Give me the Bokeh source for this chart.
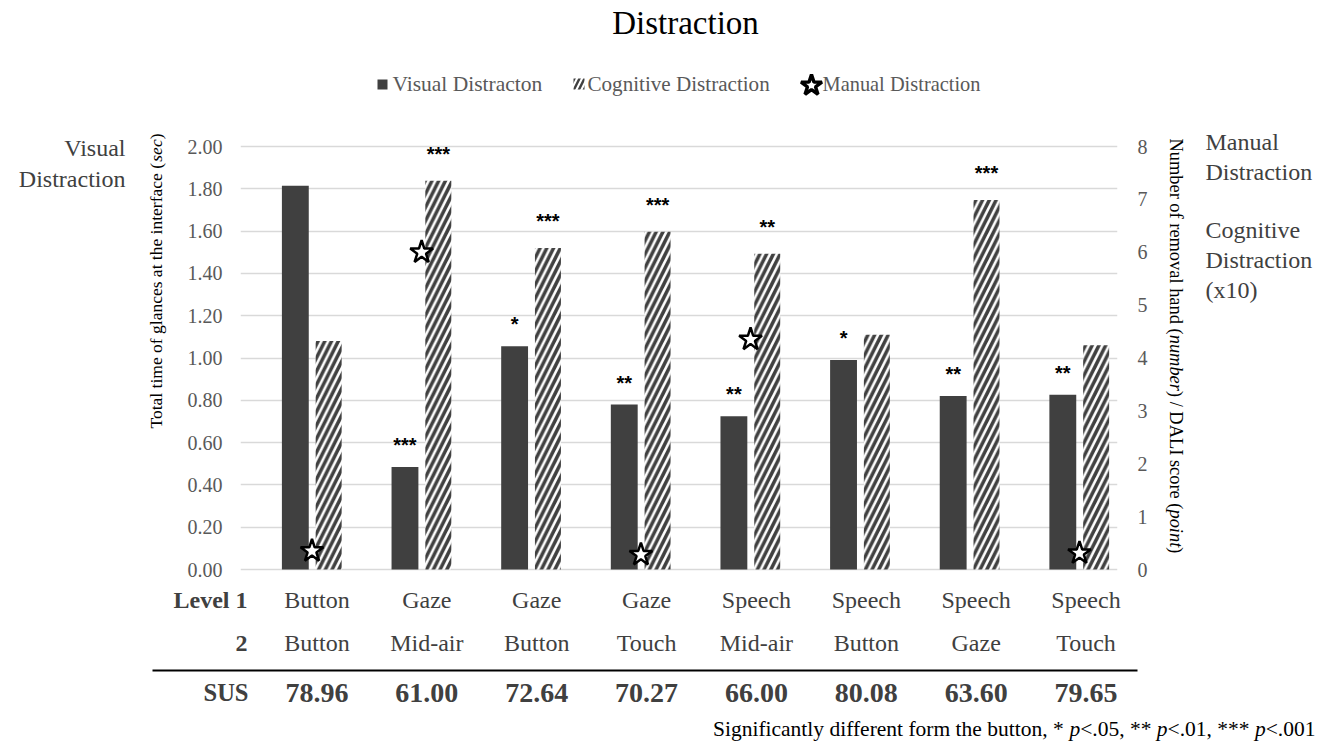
import numpy as np
from bokeh.plotting import figure
from bokeh.models import Range1d, LinearAxis, FixedTicker, PrintfTickFormatter
from bokeh.layouts import column, row
from bokeh.core.properties import value
from bokeh.embed import file_html
from bokeh.resources import INLINE

# ---------------- data ----------------
level1 = ["Button", "Gaze", "Gaze", "Gaze", "Speech", "Speech", "Speech", "Speech"]
level2 = ["Button", "Mid-air", "Button", "Touch", "Mid-air", "Button", "Gaze", "Touch"]
sus = ["78.96", "61.00", "72.64", "70.27", "66.00", "80.08", "63.60", "79.65"]
visual = [1.815, 0.485, 1.055, 0.78, 0.725, 0.99, 0.82, 0.826]          # sec (left axis)
cognitive = [4.32, 7.35, 6.08, 6.39, 5.97, 4.44, 6.99, 4.24]             # DALI/10 (right axis)
manual = [0.35, 6.0, np.nan, 0.28, 4.35, np.nan, np.nan, 0.31]           # number (right axis)
sig_visual = ["", "***", "*", "**", "**", "*", "**", "**"]
sig_cognitive = ["", "***", "***", "***", "**", "", "***", ""]
left_ticks = [0.0, 0.2, 0.4, 0.6, 0.8, 1.0, 1.2, 1.4, 1.6, 1.8, 2.0]
right_ticks = [0, 1, 2, 3, 4, 5, 6, 7, 8]

SERIF = "Liberation Serif"
SANS = "Liberation Sans"
DARK = "#404040"
GRAY = "#595959"

# Times/Liberation Serif advance widths (per 1000 em) for laying out mixed-style text
_W = {' ': 250, '(': 333, ')': 333, '/': 278, ',': 250, '.': 250, '*': 500, '<': 564,
      'a': 444, 'b': 500, 'c': 444, 'd': 500, 'e': 444, 'f': 333, 'g': 500, 'h': 500,
      'i': 278, 'j': 278, 'k': 500, 'l': 278, 'm': 778, 'n': 500, 'o': 500, 'p': 500,
      'q': 500, 'r': 333, 's': 389, 't': 278, 'u': 500, 'v': 500, 'w': 722, 'x': 500,
      'y': 500, 'z': 444, 'A': 722, 'D': 722, 'I': 333, 'L': 611, 'N': 722, 'S': 556,
      'T': 611}
_WI = dict(_W, m=722, r=389)


def tw(s, size, italic=False):
    tab = _WI if italic else _W
    return sum(tab.get(ch, 500) for ch in s) * size / 1000.0


def blank(w, h, x0, x1, ytop, ybot):
    f = figure(width=w, height=h, x_range=Range1d(x0, x1), y_range=Range1d(ybot, ytop),
               title=None, min_border=0, x_axis_location=None, y_axis_location=None,
               toolbar_location=None, output_backend="svg", outline_line_color=None)
    f.xgrid.visible = False
    f.ygrid.visible = False
    return f


def put(f, x, y, txt, size, color="black", align="left", style="normal", font=SERIF,
        angle=0.0):
    # y is the visual centre line of the text
    f.text(x=[x], y=[y], text=[txt], text_align=align, text_baseline="middle",
           text_font=value(font), text_font_size=f"{size}px", text_font_style=style,
           text_color=color, angle=angle)


# ---------------- layout sizes (page px, no body margin) ----------------
TOTAL_W, TOTAL_H = 1332, 743
W_LEFT, W_MAIN = 178, 984
W_RIGHT = TOTAL_W - W_LEFT - W_MAIN
H_TOP, H_MID = 126, 458
H_BOT = TOTAL_H - H_TOP - H_MID
MID_Y1 = H_TOP + H_MID

# ---------------- main chart ----------------
x_idx = np.arange(len(level1))
group_px, group_step = 311.5, 109.64
frame_l, frame_r = 240.0, 1117.0
xr = Range1d((frame_l - group_px) / group_step, (frame_r - group_px) / group_step)

# value 0 sits at page y 569, value 2.00 at page y 146; the frame spans the whole row
zero_px, two_px = 569.0, 146.0
k = (zero_px - two_px) / 2.0
yr = Range1d(-(MID_Y1 - zero_px) / k, (zero_px - H_TOP) / k)
yr_right = Range1d(yr.start * 4, yr.end * 4)

main = figure(width=W_MAIN, height=H_MID, x_range=xr, y_range=yr, title=None,
              x_axis_location=None, toolbar_location=None, output_backend="svg",
              min_border_left=62, min_border_right=45, min_border_top=0,
              min_border_bottom=0, outline_line_color=None)
main.extra_y_ranges = {"right": yr_right}

off = 0.152
main.vbar(x=x_idx - off, top=visual, width=0.245, fill_color=DARK, line_color=None)
main.vbar(x=x_idx + off, top=cognitive, width=0.237, y_range_name="right",
          fill_color="white", line_color=None, hatch_pattern="/", hatch_color=DARK,
          hatch_scale=13.5, hatch_weight=3.5)
main.scatter(x=x_idx, y=manual, y_range_name="right", marker="star", size=24,
             fill_color="white", line_color="black", line_width=2.5)

main.text(x=x_idx - off, y=visual, text=sig_visual, text_align="center",
          text_baseline="middle", y_offset=-22, text_font=value(SANS),
          text_font_style="bold", text_font_size="20px", text_color="black")
main.text(x=x_idx + off, y=cognitive, text=sig_cognitive, y_range_name="right",
          text_align="center", text_baseline="middle", y_offset=-27,
          text_font=value(SANS), text_font_style="bold", text_font_size="20px",
          text_color="black")

ya = main.yaxis[0]
ya.ticker = FixedTicker(ticks=left_ticks)
ya.formatter = PrintfTickFormatter(format="%.2f")
ra = LinearAxis(y_range_name="right", ticker=FixedTicker(ticks=right_ticks))
main.add_layout(ra, "right")
for ax, st in ((ya, 18), (ra, 20)):
    ax.axis_line_color = None
    ax.major_tick_line_color = None
    ax.minor_tick_line_color = None
    ax.major_tick_out = 0
    ax.major_tick_in = 0
    ax.major_label_standoff = st
    ax.major_label_text_font = SERIF
    ax.major_label_text_font_size = "20px"
    ax.major_label_text_color = GRAY

main.ygrid.ticker = FixedTicker(ticks=left_ticks)
main.ygrid.grid_line_color = "#d9d9d9"
main.ygrid.grid_line_width = 1.6
main.xgrid.visible = False

# ---------------- top: title + legend ----------------
top = blank(TOTAL_W, H_TOP, 0, TOTAL_W, 0, H_TOP)
put(top, 685, 22.5, "Distraction", 33, color="black", align="center")
top.scatter(x=[382], y=[84], marker="square", size=10, fill_color=DARK, line_color=None)
top.quad(left=[573], right=[584], top=[78], bottom=[89], fill_color="white",
         line_color=None, hatch_pattern="/", hatch_color=DARK, hatch_scale=10,
         hatch_weight=2.4)
top.scatter(x=[811], y=[85], marker="star", size=22, fill_color="white",
            line_color="black", line_width=3.4)
put(top, 392, 83, "Visual Distracton", 21.5, color=GRAY)
put(top, 587, 83, "Cognitive Distraction", 21.1, color=GRAY)
put(top, 822, 83, "Manual Distraction", 20.4, color=GRAY)

# ---------------- left side ----------------
left = blank(W_LEFT, H_MID, 0, W_LEFT, H_TOP, MID_Y1)
put(left, 125, 147.5, "Visual", 24, color=DARK, align="right")
put(left, 125, 178, "Distraction", 24, color=DARK, align="right")
y = 428.0
for txt, it in (("Total time of glances at the interface (", False), ("sec", True),
                (")", False)):
    put(left, 155, y, txt, 17.5, style="italic" if it else "normal", angle=np.pi / 2)
    y -= tw(txt, 17.5, it)

# ---------------- right side ----------------
rx0 = W_LEFT + W_MAIN
right = blank(W_RIGHT, H_MID, rx0, rx0 + W_RIGHT, H_TOP, MID_Y1)
y = 138.0
for txt, it in (("Number of removal hand (", False), ("number", True),
                (") / DALI score (", False), ("point", True), (")", False)):
    put(right, 1175.5, y, txt, 18.4, style="italic" if it else "normal",
        angle=-np.pi / 2)
    y += tw(txt, 18.4, it)
for txt, yy in (("Manual", 141), ("Distraction", 171), ("Cognitive", 229),
                ("Distraction", 259), ("(x10)", 289)):
    put(right, 1205, yy, txt, 24, color=DARK)

# ---------------- bottom table ----------------
bot = blank(TOTAL_W, H_BOT, 0, TOTAL_W, MID_Y1, TOTAL_H)
tab_x0, tab_step = 316.5, 109.86
put(bot, 247, 599, "Level 1", 24, color=DARK, align="right", style="bold")
put(bot, 247, 642.5, "2", 24, color=DARK, align="right", style="bold")
put(bot, 248, 692, "SUS", 24.5, color=DARK, align="right", style="bold")
tx = [tab_x0 + tab_step * i for i in range(len(level1))]
n = len(tx)
bot.text(x=tx, y=[599] * n, text=level1, text_align="center",
         text_baseline="middle", text_font=value(SERIF), text_font_size="24px",
         text_color=DARK)
bot.text(x=tx, y=[642.5] * n, text=level2, text_align="center",
         text_baseline="middle", text_font=value(SERIF), text_font_size="24px",
         text_color=DARK)
bot.text(x=tx, y=[692] * n, text=sus, text_align="center",
         text_baseline="middle", text_font=value(SERIF), text_font_size="28px",
         text_font_style="bold", text_color=DARK)
bot.segment(x0=[152], x1=[1137], y0=[670], y1=[670], line_color="black", line_width=2)

pieces = (("Significantly different form the button, * ", False), ("p", True),
          ("<.05, ** ", False), ("p", True), ("<.01, *** ", False), ("p", True),
          ("<.001", False))
fs = 21.5
total = sum(tw(t, fs, it) for t, it in pieces)
x = 1315 - total
for txt, it in pieces:
    put(bot, x, 728, txt, fs, style="italic" if it else "normal")
    x += tw(txt, fs, it)

layout = column(top, row(left, main, right), bot)
open("out.html", "w").write(file_html(layout, INLINE))
